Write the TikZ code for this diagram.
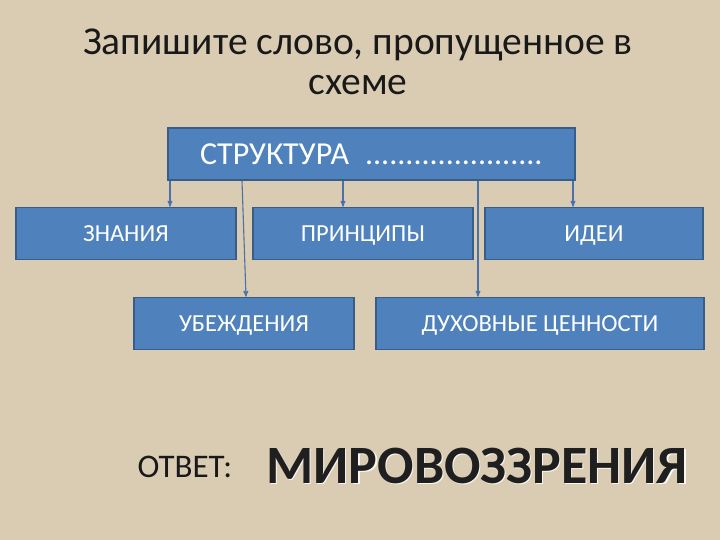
\documentclass[tikz,border=0pt]{standalone}
\usepackage{fontspec}
\setmainfont{Carlito}
\usepackage{tikz}
\usetikzlibrary{arrows, positioning}
\definecolor{burlap}{HTML}{D9CCB3}
\definecolor{boxblue}{HTML}{4F81BD}
\definecolor{boxedge}{HTML}{385D8A}
\definecolor{linkblue}{HTML}{4A72A8}
\tikzset{
  box/.style = {align=center, inner sep=0pt, text centered,
    fill=boxblue, draw=boxedge, line width=1.6pt, text=white,
    minimum height=52pt, text height=16pt, text depth=0pt,
    font=\fontsize{24.5}{28}\selectfont},
  link/.style = {->, draw=linkblue, line width=1.1pt}
}
\begin{document}
\begin{tikzpicture}[x=1pt, y=-1pt, >=stealth']
\fill[burlap] (0,0) rectangle (720,540);
\useasboundingbox (0,0) rectangle (720,540);
% title
\node (title) [align=center, text=black!90, font=\fontsize{39.5}{40}\selectfont]
  at (358,62) {Запишите слово, пропущенное в\\схеме};
% scheme
\node [box, minimum width=407pt, text height=21pt, font=\fontsize{32}{36}\selectfont]
  (top) at (371.5,154) {СТРУКТУРА\hspace{16pt}......................};
\node [box, minimum width=220pt] (zn) at (126,233.5) {ЗНАНИЯ};
\node [box, minimum width=220pt] (pr) at (363,233.5) {ПРИНЦИПЫ};
\node [box, minimum width=218pt] (id) at (594,233.5) {ИДЕИ};
\node [box, minimum width=220pt] (ub) at (244,323.5) {УБЕЖДЕНИЯ};
\node [box, minimum width=328pt] (du) at (540,323.5) {ДУХОВНЫЕ ЦЕННОСТИ};
\draw [link] ([xshift=-201.5pt]top.south) -- ([xshift=44pt]zn.north);
\draw [link] ([xshift=-129.5pt]top.south) -- ([xshift=2pt]ub.north);
\draw [link] ([xshift=-28.5pt]top.south) -- ([xshift=-20pt]pr.north);
\draw [link] ([xshift=106.5pt]top.south) -- ([xshift=-62pt]du.north);
\draw [link] ([xshift=201.5pt]top.south) -- ([xshift=-21pt]id.north);
% answer
\node (ans) [anchor=base west, text=black!90, font=\fontsize{33}{36}\selectfont]
  at (134,477) {ОТВЕТ:};
\node (word) [anchor=base west, text=black!88, font=\fontsize{54}{60}\bfseries]
  at (263,483) {\rlap{\raisebox{-1.2pt}{\hspace{1.2pt}\color{white!85!burlap}МИРОВОЗЗРЕНИЯ}}МИРОВОЗЗРЕНИЯ};
\end{tikzpicture}
\end{document}
